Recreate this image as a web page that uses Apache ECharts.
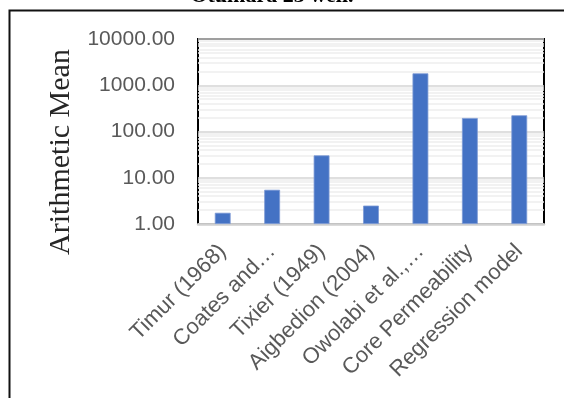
<!DOCTYPE html>
<html>
<head>
<meta charset="utf-8">
<script src="https://cdn.jsdelivr.net/npm/echarts@6/dist/echarts.min.js"></script>
<style>
  html, body { margin: 0; padding: 0; background: #fff; }
  #chart { width: 564px; height: 398px; }
</style>
</head>
<body>
<div id="chart"></div>
<script>
// Permeability estimates (arithmetic mean, mD) for each method
const categories = ['Timur (1968)', 'Coates and…', 'Tixier (1949)', 'Aigbedion (2004)', 'Owolabi et al.,…', 'Core Permeability', 'Regression model'];
const meanValues = [1.75, 5.5, 30.5, 2.5, 1810, 196, 224];
const yTicks = [1, 10, 100, 1000, 10000];

// light minor grid at 2..9 within each decade
const minorGrid = [];
for (let d = 0; d < yTicks.length - 1; d++) {
  for (let k = 2; k <= 9; k++) minorGrid.push({ yAxis: yTicks[d] * k });
}

const chart = echarts.init(document.getElementById('chart'), null, { renderer: 'canvas' });
const labelFont = '"Liberation Sans", Arial, sans-serif';

chart.setOption({
  animation: false,
  graphic: [
    { type: 'rect', shape: { x: 9.5, y: 10.5, width: 700, height: 500 }, style: { fill: 'none', stroke: '#111', lineWidth: 2 }, z: 0 },
    { type: 'text', x: 272, y: 7, style: { text: 'Otumara 23 well.', font: 'bold 22px "Liberation Serif", "Times New Roman", serif', fill: '#000', textAlign: 'center', textVerticalAlign: 'bottom' } },
    { type: 'text', x: 61, y: 152, rotation: Math.PI / 2, style: { text: 'Arithmetic Mean', font: '30px "Liberation Serif", "Times New Roman", serif', fill: '#262626', textAlign: 'center', textVerticalAlign: 'middle' } }
  ],
  grid: { left: 198, top: 39, right: 20, bottom: 174, show: true, borderColor: '#000', borderWidth: 2, backgroundColor: 'transparent' },
  xAxis: {
    type: 'category',
    data: categories,
    axisLine: { show: true, lineStyle: { color: '#d0d0d0', width: 2.5 } },
    axisTick: { show: false },
    axisLabel: { rotate: 45, interval: 0, margin: 24, color: '#595959', fontSize: 22, fontFamily: labelFont }
  },
  yAxis: {
    type: 'log',
    logBase: 10,
    min: yTicks[0],
    max: yTicks[yTicks.length - 1],
    axisLine: { show: false },
    axisTick: { show: false },
    axisLabel: { margin: 23, color: '#595959', fontSize: 21, fontFamily: labelFont, formatter: v => Number(v).toFixed(2) },
    splitLine: { show: true, lineStyle: { color: '#d4d4d4', width: 1.5 } }
  },
  series: [
    {
      type: 'line',
      data: [],
      z: 1,
      silent: true,
      markLine: {
        z: 1,
        silent: true,
        symbol: 'none',
        label: { show: false },
        lineStyle: { color: '#eeeeee', width: 1.5, type: 'solid' },
        data: minorGrid
      }
    },
    {
      type: 'bar',
      data: meanValues,
      z: 3,
      barWidth: '32%',
      itemStyle: { color: '#4472c4', borderColor: '#7d9bd6', borderWidth: 0.8 }
    }
  ]
});
</script>
</body>
</html>
